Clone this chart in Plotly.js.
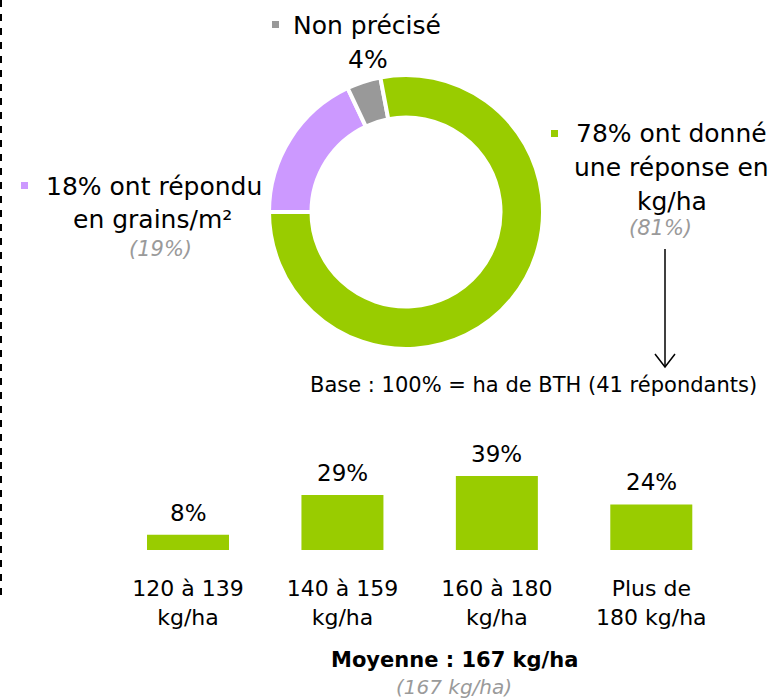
<!DOCTYPE html>
<html>
<head>
<meta charset="utf-8">
<script src="https://cdn.plot.ly/plotly-3.0.1.min.js"></script>
<style>
  html, body { margin: 0; padding: 0; background: #fff; }
  #chart { width: 778px; height: 699px; }
</style>
</head>
<body>
<div id="chart"></div>
<script>
// donut: share of answers by unit (order = clockwise from 9 o'clock)
const pieNames = ['grains/m²', 'Non précisé', 'kg/ha'];
const pieValues = [18, 4, 78];
const piePrev = [19, null, 81];
const pieColors = ['#CC99FF', '#999999', '#99CC00'];

// bars: distribution of kg/ha answers
const barCats = ['120 à 139<br>kg/ha', '140 à 159<br>kg/ha', '160 à 180<br>kg/ha', 'Plus de<br>180 kg/ha'];
const barValues = [8, 29, 39, 24];
const meanValue = 167;
const meanPrev = 167;

const W = 778, H = 699;
const FONT = 'DejaVu Sans, Verdana, sans-serif';
const GREY_TXT = '#9a9a9a';

const px = (x) => x / W;
const py = (y) => 1 - y / H;

// text placed by its baseline in pixels
function txt(text, cx, base, size, color) {
  return {
    xref: 'paper', yref: 'paper',
    x: px(cx), y: py(base - 0.35 * size),
    xanchor: 'center', yanchor: 'middle',
    showarrow: false, text: text,
    font: { family: FONT, size: size, color: color || '#000' }
  };
}

function square(x, y, color) {
  return { type: 'rect', xref: 'paper', yref: 'paper', x0: px(x), x1: px(x + 7), y0: py(y + 7), y1: py(y), fillcolor: color, line: { width: 0 } };
}

function init() {
  const r = 137, cx = 406, cy = 212;

  const pie = {
    type: 'pie',
    labels: pieNames,
    values: pieValues,
    marker: { colors: pieColors, line: { color: '#ffffff', width: 4 } },
    hole: 0.69,
    sort: false,
    direction: 'clockwise',
    rotation: -90,
    textinfo: 'none',
    hoverinfo: 'none',
    showlegend: false,
    domain: { x: [px(cx - r), px(cx + r)], y: [py(cy + r), py(cy - r)] }
  };

  const bars = {
    type: 'bar',
    x: barCats,
    y: barValues,
    marker: { color: '#99CC00' },
    hoverinfo: 'none',
    showlegend: false
  };

  const annotations = [
    txt('Non précisé', 367, 34, 25),
    txt(pieValues[1] + '%', 367.5, 68, 25),
    txt(pieValues[2] + '% ont donné', 671.5, 142, 25),
    txt('une réponse en', 671.5, 176, 25),
    txt(pieNames[2], 671.5, 210, 25),
    txt('<i>(' + piePrev[2] + '%)</i>', 660.5, 235, 21, GREY_TXT),
    txt(pieValues[0] + '% ont répondu', 153.7, 195, 25),
    txt('en ' + pieNames[0], 152.5, 228, 25),
    txt('<i>(' + piePrev[0] + '%)</i>', 160, 256, 21, GREY_TXT),
    txt('Base : 100% = ha de BTH (41 répondants)', 533, 392, 21),
    txt('<b>Moyenne : ' + meanValue + ' kg/ha</b>', 454.7, 667, 21),
    txt('<i>(' + meanPrev + ' kg/ha)</i>', 454, 694, 20, GREY_TXT)
  ];

  barValues.forEach((v, i) => {
    annotations.push({
      xref: 'x', yref: 'y', x: barCats[i], y: v,
      yanchor: 'bottom', yshift: 7, showarrow: false,
      text: v + '%',
      font: { family: FONT, size: 23, color: '#000' }
    });
  });

  const shapes = [
    // dashed frame edge on the left
    { type: 'line', xref: 'paper', yref: 'paper', x0: px(1), x1: px(1), y0: py(0), y1: py(602), line: { color: '#000', width: 2, dash: '7px,7px' } },
    // arrow from the kg/ha label down to the base line
    { type: 'line', xref: 'paper', yref: 'paper', x0: px(665), x1: px(665), y0: py(249), y1: py(367), line: { color: '#000', width: 1.5 } },
    { type: 'path', xref: 'paper', yref: 'paper', path: '', line: { color: '#000', width: 1.5 } },
    square(272, 21, pieColors[1]),
    square(551, 130, pieColors[2]),
    square(21, 182, pieColors[0])
  ];
  // the arrow head path needs pixel -> paper conversion
  const hx = 665, hy = 367;
  shapes[2].path = `M${px(hx - 10)},${py(hy - 13)} L${px(hx)},${py(hy)} L${px(hx + 10)},${py(hy - 13)}`;

  const layout = {
    width: W,
    height: H,
    margin: { l: 0, r: 0, t: 0, b: 0 },
    paper_bgcolor: '#ffffff',
    plot_bgcolor: 'rgba(0,0,0,0)',
    font: { family: FONT, color: '#000' },
    bargap: 0.469,
    xaxis: {
      domain: [px(110.8), px(728.5)],
      type: 'category',
      showgrid: false, zeroline: false, showline: false, ticks: '',
      tickfont: { family: FONT, size: 22, color: '#000' },
      ticklabelstandoff: 23
    },
    yaxis: {
      domain: [py(550), py(455)],
      range: [0, 50],
      visible: false,
      fixedrange: true
    },
    annotations: annotations,
    shapes: shapes
  };

  Plotly.newPlot('chart', [pie, bars], layout, { displayModeBar: false, staticPlot: true });
}

document.addEventListener('DOMContentLoaded', init);
</script>
</body>
</html>
